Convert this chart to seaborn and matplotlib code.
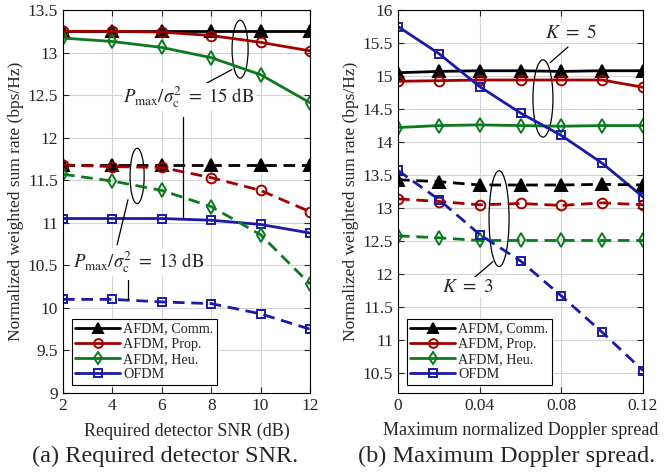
import numpy as np
import pandas as pd
import matplotlib.pyplot as plt
import seaborn as sns
from matplotlib.patches import Ellipse

# ---- data ----
snr = [2, 4, 6, 8, 10, 12]
comm_15 = [13.25, 13.25, 13.25, 13.25, 13.25, 13.25]
prop_15 = [13.25, 13.25, 13.24, 13.20, 13.12, 13.02]
heu_15 = [13.17, 13.13, 13.06, 12.94, 12.74, 12.41]
ofdm_15 = [11.05, 11.05, 11.05, 11.03, 10.98, 10.88]
comm_13 = [11.68, 11.68, 11.68, 11.68, 11.68, 11.68]
prop_13 = [11.68, 11.66, 11.65, 11.53, 11.38, 11.13]
heu_13 = [11.57, 11.49, 11.38, 11.19, 10.86, 10.28]
ofdm_13 = [10.10, 10.10, 10.07, 10.05, 9.93, 9.75]

doppler = [0, 0.02, 0.04, 0.06, 0.08, 0.10, 0.12]
comm_k5 = [15.05, 15.07, 15.08, 15.08, 15.07, 15.08, 15.08]
prop_k5 = [14.92, 14.93, 14.94, 14.94, 14.94, 14.94, 14.83]
heu_k5 = [14.22, 14.25, 14.26, 14.25, 14.24, 14.25, 14.25]
ofdm_k5 = [15.75, 15.34, 14.84, 14.44, 14.10, 13.68, 13.17]
comm_k3 = [13.43, 13.40, 13.35, 13.35, 13.35, 13.36, 13.35]
prop_k3 = [13.14, 13.10, 13.05, 13.07, 13.04, 13.08, 13.05]
heu_k3 = [12.58, 12.55, 12.51, 12.51, 12.51, 12.51, 12.51]
ofdm_k3 = [13.57, 13.13, 12.60, 12.20, 11.67, 11.12, 10.54]

names = ['AFDM, Comm.', 'AFDM, Prop.', 'AFDM, Heu.', 'OFDM']
left_yticks = [9, 9.5, 10, 10.5, 11, 11.5, 12, 12.5, 13, 13.5]
left_ylabels = ['9', '9.5', '10', '10.5', '11', '11.5', '12', '12.5', '13', '13.5']
right_xticks = [0, 0.04, 0.08, 0.12]
right_xlabels = ['0', '0.04', '0.08', '0.12']
right_yticks = [10.5, 11, 11.5, 12, 12.5, 13, 13.5, 14, 14.5, 15, 15.5, 16]
right_ylabels = ['10.5', '11', '11.5', '12', '12.5', '13', '13.5', '14', '14.5', '15', '15.5', '16']

colors = ['black', '#a00000', '#0b7a1e', '#1a1aa6']
markers = ['^', 'o', 'd', 's']
msizes = [8.5, 7, 7, 6]

sns.set_theme(style='ticks')
plt.rcParams['font.family'] = ['Liberation Serif', 'DejaVu Serif']
plt.rcParams['mathtext.fontset'] = 'stix'
plt.rcParams['xtick.direction'] = 'in'
plt.rcParams['ytick.direction'] = 'in'

fig = plt.figure(figsize=(6.65, 4.72), dpi=100)
ax1 = fig.add_axes([63/665, 1-393/472, 247/665, 383/472])
ax2 = fig.add_axes([398/665, 1-393/472, 245/665, 383/472])

dash = (0, (4.2, 2.4))


def draw(ax, x, groups):
    for ys, ls in groups:
        for i, y in enumerate(ys):
            mfc = colors[i] if i == 0 else 'none'
            sns.lineplot(x=x, y=y, ax=ax, color=colors[i], marker=markers[i],
                         markersize=msizes[i], markerfacecolor=mfc,
                         markeredgecolor=colors[i], markeredgewidth=1.4,
                         linewidth=2, linestyle=ls,
                         label=names[i] if ls == '-' else None, legend=False)


draw(ax1, snr, [([comm_15, prop_15, heu_15, ofdm_15], '-'),
                ([comm_13, prop_13, heu_13, ofdm_13], dash)])
draw(ax2, doppler, [([comm_k5, prop_k5, heu_k5, ofdm_k5], '-'),
                    ([comm_k3, prop_k3, heu_k3, ofdm_k3], dash)])

for ax in (ax1, ax2):
    ax.grid(True, color='#d4d4d4', linewidth=0.8)
    ax.set_axisbelow(True)
    ax.tick_params(top=True, right=True, labelsize=12.5, length=4, width=0.8)
    for s in ax.spines.values():
        s.set_color('black')
        s.set_linewidth(0.8)
    ax.set_ylabel('Normalized weighted sum rate (bps/Hz)', fontsize=12.5, labelpad=3)
    h = ax.get_lines()[:4]
    leg = ax.legend(handles=h, labels=names, loc='lower left', fontsize=10.2,
                    handlelength=3.2, numpoints=1, fancybox=False, framealpha=1,
                    edgecolor='black', borderpad=0.25, labelspacing=0.15,
                    handletextpad=0.2, borderaxespad=0.6, markerscale=0.9)
    leg.get_frame().set_linewidth(0.8)

ax1.set_xlim(2, 12)
ax1.set_ylim(9, 13.5)
ax1.set_xticks(snr)
ax1.set_yticks(left_yticks, left_ylabels)
ax1.set_xlabel('Required detector SNR (dB)', fontsize=13, labelpad=6)

ax2.set_xlim(0, 0.12)
ax2.set_ylim(10.2, 16)
ax2.set_xticks(right_xticks, right_xlabels)
ax2.set_yticks(right_yticks, right_ylabels)
ax2.set_xlabel('Maximum normalized Doppler spread', fontsize=13, labelpad=6)

# annotations, left panel
ax1.add_patch(Ellipse((9.17, 13.04), 0.65, 0.68, fill=False, color='black', lw=0.9))
ax1.add_patch(Ellipse((5.0, 11.55), 0.57, 0.65, fill=False, color='black', lw=0.9))
ax1.plot([8.84, 7.55], [12.80, 12.60], color='black', lw=0.9)
ax1.plot([6.86, 6.86], [12.24, 11.05], color='black', lw=0.9)
ax1.plot([4.63, 4.19], [11.27, 10.74], color='black', lw=0.9)
ax1.plot([4.63, 4.63], [10.33, 10.10], color='black', lw=0.9)
box = dict(facecolor='white', edgecolor='none', pad=1)
ax1.text(7.1, 12.48, r'$P_{\max}/\sigma_{\mathrm{c}}^2\ =\ 15\ \mathrm{dB}$',
         ha='center', va='center', fontsize=13.5, bbox=box)
ax1.text(5.05, 10.54, r'$P_{\max}/\sigma_{\mathrm{c}}^2\ =\ 13\ \mathrm{dB}$',
         ha='center', va='center', fontsize=13.5, bbox=box)

# annotations, right panel
ax2.add_patch(Ellipse((0.071, 14.66), 0.0098, 1.17, fill=False, color='black', lw=0.9))
ax2.add_patch(Ellipse((0.0495, 12.84), 0.0098, 1.45, fill=False, color='black', lw=0.9))
ax2.plot([0.0744, 0.0833], [15.20, 15.44], color='black', lw=0.9)
ax2.plot([0.0465, 0.0367], [12.19, 11.93], color='black', lw=0.9)
ax2.text(0.0848, 15.65, r'$K\ =\ 5$', ha='center', va='center', fontsize=14, bbox=box)
ax2.text(0.0340, 11.80, r'$K\ =\ 3$', ha='center', va='center', fontsize=14, bbox=box)

fig.text(165/665, 1-456/472, '(a) Required detector SNR.', ha='center', va='center', fontsize=17.5)
fig.text(507/665, 1-456/472, '(b) Maximum Doppler spread.', ha='center', va='center', fontsize=17.5)

fig.savefig('out.png', dpi=100)
